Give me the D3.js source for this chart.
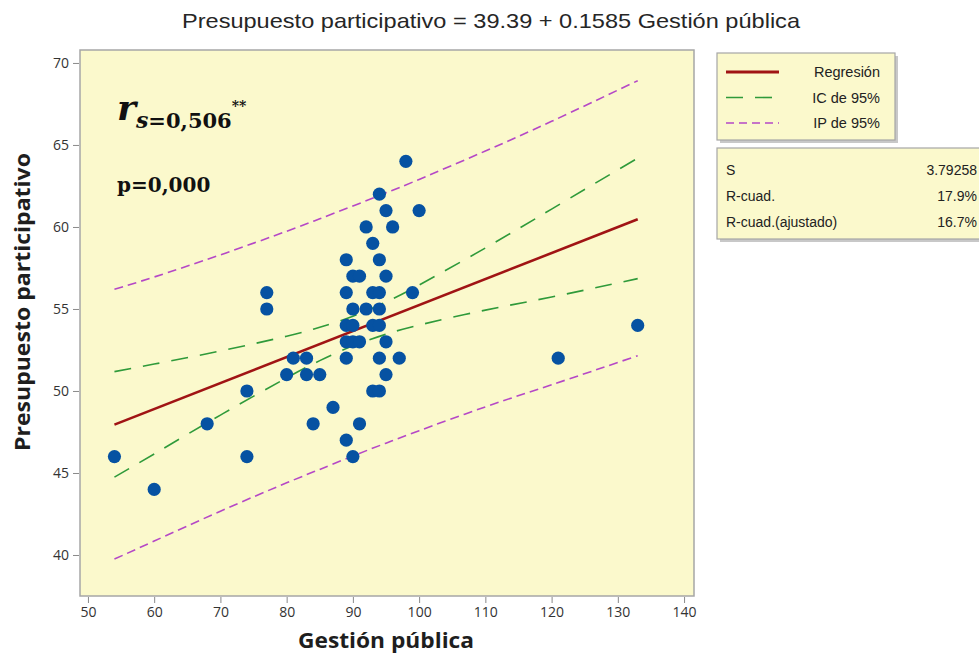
<!DOCTYPE html>
<html>
<head>
<meta charset="utf-8">
<script src="https://cdn.jsdelivr.net/npm/d3@7"></script>
<style>
  html, body { margin: 0; padding: 0; background: #ffffff; }
  svg { display: block; }
</style>
</head>
<body>
<svg id="chart" width="979" height="658"></svg>
<script>
// ---------- data ----------
const gestionPublica = [54, 60, 68, 74, 74, 77, 77, 80, 81, 83, 83, 85, 84, 87, 89, 90, 91,
  89, 89, 89, 89, 89, 90, 91, 90, 90, 90, 91, 92, 92, 93, 93, 93, 93,
  94, 94, 94, 94, 94, 94, 94, 95, 95, 95, 95, 96, 97, 98, 99, 100, 121, 133];
const presupuestoParticipativo = [46, 44, 48, 50, 46, 56, 55, 51, 52, 52, 51, 51, 48, 49, 47, 46, 48,
  58, 56, 54, 53, 52, 57, 57, 55, 54, 53, 53, 60, 55, 59, 56, 54, 50,
  62, 58, 56, 55, 54, 52, 50, 61, 57, 53, 51, 60, 52, 64, 56, 61, 52, 54];

const regX = [54, 133];
const regY = [47.95, 60.47];

const bandX   = [54, 60, 70, 80, 85, 90, 95, 100, 110, 120, 133];
const ciUpper = [51.18, 51.64, 52.44, 53.34, 53.88, 54.56, 55.43, 56.46, 58.72, 61.09, 64.20];
const ciLower = [44.75, 46.16, 48.53, 50.80, 51.85, 52.75, 53.46, 54.02, 54.93, 55.73, 56.85];
const piUpper = [56.20, 56.95, 58.30, 59.74, 60.50, 61.28, 62.08, 62.90, 64.63, 66.44, 68.92];
const piLower = [39.75, 40.85, 42.67, 44.40, 45.22, 46.04, 46.82, 47.58, 49.03, 50.38, 52.15];

const xTicks = [50, 60, 70, 80, 90, 100, 110, 120, 130, 140];
const yTicks = [40, 45, 50, 55, 60, 65, 70];

const titleText = "Presupuesto participativo = 39.39 + 0.1585 Gestión pública";
const xTitle = "Gestión pública";
const yTitle = "Presupuesto participativo";
const legendLabels = ["Regresión", "IC de 95%", "IP de 95%"];
const statLabels = ["S", "R-cuad.", "R-cuad.(ajustado)"];
const statValues = ["3.79258", "17.9%", "16.7%"];

// ---------- layout ----------
const svg = d3.select("#chart");
const plot = { left: 80, right: 694, top: 50, bottom: 596 };
const bg = "#fbf9cc";
const frame = "#a6a6a6";

const x = d3.scaleLinear().domain([48.8, 141.5]).range([plot.left, plot.right]);
const y = d3.scaleLinear().domain([37.5, 70.79]).range([plot.bottom, plot.top]);

// plot background
svg.append("rect")
  .attr("x", plot.left).attr("y", plot.top)
  .attr("width", plot.right - plot.left).attr("height", plot.bottom - plot.top)
  .attr("fill", bg).attr("stroke", frame).attr("stroke-width", 1.5);

// axes
const xAxis = d3.axisBottom(x).tickValues(xTicks).tickSize(6).tickPadding(4);
const yAxis = d3.axisLeft(y).tickValues(yTicks).tickSize(6).tickPadding(4);

const gx = svg.append("g").attr("transform", `translate(0,${plot.bottom + 1})`).call(xAxis);
const gy = svg.append("g").attr("transform", `translate(${plot.left - 1},0)`).call(yAxis);
[gx, gy].forEach(g => {
  g.select(".domain").remove();
  g.selectAll(".tick line").attr("stroke", "#8a8a8a");
  g.selectAll(".tick text")
    .attr("fill", "#333333")
    .style("font-family", "'Open Sans', 'Noto Sans', sans-serif")
    .style("font-size", "14px");
});

// clip to plot
svg.append("clipPath").attr("id", "clip").append("rect")
  .attr("x", plot.left).attr("y", plot.top)
  .attr("width", plot.right - plot.left).attr("height", plot.bottom - plot.top);
const g = svg.append("g").attr("clip-path", "url(#clip)");

const line = d3.line().x(d => x(d[0])).y(d => y(d[1])).curve(d3.curveNatural);

// prediction interval
[piUpper, piLower].forEach(arr => {
  g.append("path").datum(bandX.map((v, i) => [v, arr[i]]))
    .attr("d", line).attr("fill", "none")
    .attr("stroke", "#b548c6").attr("stroke-width", 1.6)
    .attr("stroke-dasharray", "9,5");
});
// confidence interval
[ciUpper, ciLower].forEach(arr => {
  g.append("path").datum(bandX.map((v, i) => [v, arr[i]]))
    .attr("d", line).attr("fill", "none")
    .attr("stroke", "#2f9a3a").attr("stroke-width", 1.6)
    .attr("stroke-dasharray", "17,12");
});
// regression
g.append("path").datum(regX.map((v, i) => [v, regY[i]]))
  .attr("d", d3.line().x(d => x(d[0])).y(d => y(d[1])))
  .attr("fill", "none").attr("stroke", "#a01414").attr("stroke-width", 2.6);

// points
g.selectAll("circle.pt").data(gestionPublica.map((v, i) => [v, presupuestoParticipativo[i]]))
  .enter().append("circle").attr("class", "pt")
  .attr("cx", d => x(d[0])).attr("cy", d => y(d[1]))
  .attr("r", 6.6).attr("fill", "#0652a2");

// title
svg.append("text")
  .attr("x", 491).attr("y", 28).attr("text-anchor", "middle")
  .attr("textLength", 618).attr("lengthAdjust", "spacingAndGlyphs")
  .style("font-family", "'Liberation Sans Narrow', 'Liberation Sans', Arial, sans-serif")
  .style("font-size", "21px").attr("fill", "#262626")
  .text(titleText);

// axis titles
svg.append("text")
  .attr("x", 386).attr("y", 648).attr("text-anchor", "middle")
  .attr("textLength", 176).attr("lengthAdjust", "spacingAndGlyphs")
  .style("font-family", "'Open Sans', 'Noto Sans', sans-serif")
  .style("font-weight", "bold").style("font-size", "21px").attr("fill", "#1e1e1e")
  .text(xTitle);
svg.append("text")
  .attr("transform", "translate(30,302) rotate(-90)").attr("text-anchor", "middle")
  .attr("textLength", 298).attr("lengthAdjust", "spacingAndGlyphs")
  .style("font-family", "'Open Sans', 'Noto Sans', sans-serif")
  .style("font-weight", "bold").style("font-size", "21px").attr("fill", "#1e1e1e")
  .text(yTitle);

// annotation r_s and p
const ann = svg.append("text").attr("x", 117).attr("y", 120)
  .style("font-family", "'DejaVu Serif', 'Liberation Serif', serif")
  .style("font-weight", "bold").attr("fill", "#111");
ann.append("tspan").style("font-style", "italic").style("font-size", "36px").text("r");
ann.append("tspan").attr("dy", 8).style("font-style", "italic").style("font-size", "22px").text("s");
ann.append("tspan").style("font-size", "21px").text("=0,506");
ann.append("tspan").attr("dy", -17).style("font-size", "14px").style("font-style", "italic").text("**");

svg.append("text").attr("x", 117).attr("y", 192)
  .style("font-family", "'DejaVu Serif', 'Liberation Serif', serif")
  .style("font-weight", "bold").style("font-size", "20px").attr("fill", "#111")
  .text("p=0,000");

// legend box
const shadow = "#c8c8c8";
function box(x0, y0, w, h) {
  svg.append("rect").attr("x", x0 + 3).attr("y", y0 + 3).attr("width", w).attr("height", h).attr("fill", shadow);
  svg.append("rect").attr("x", x0).attr("y", y0).attr("width", w).attr("height", h)
    .attr("fill", bg).attr("stroke", frame).attr("stroke-width", 1.2);
}
box(717, 53, 178, 87);
const legStyles = [
  { stroke: "#a01414", w: 3, dash: null },
  { stroke: "#2f9a3a", w: 1.6, dash: "17,12" },
  { stroke: "#b548c6", w: 1.6, dash: "8,5" }
];
legendLabels.forEach((lab, i) => {
  const yy = 72 + i * 25.5;
  const l = svg.append("line").attr("x1", 726).attr("x2", 779).attr("y1", yy).attr("y2", yy)
    .attr("stroke", legStyles[i].stroke).attr("stroke-width", legStyles[i].w);
  if (legStyles[i].dash) l.attr("stroke-dasharray", legStyles[i].dash);
  svg.append("text").attr("x", 880).attr("y", yy + 5).attr("text-anchor", "end")
    .style("font-family", "'Liberation Sans', Arial, sans-serif").style("font-size", "14.5px")
    .attr("fill", "#222").text(lab);
});

// stats box
box(717, 148, 270, 91);
statLabels.forEach((lab, i) => {
  const yy = 175 + i * 25.8;
  svg.append("text").attr("x", 726).attr("y", yy)
    .style("font-family", "'Liberation Sans', Arial, sans-serif").style("font-size", "14px")
    .attr("fill", "#222").text(lab);
  svg.append("text").attr("x", 977).attr("y", yy).attr("text-anchor", "end")
    .style("font-family", "'Liberation Sans', Arial, sans-serif").style("font-size", "14px")
    .attr("fill", "#222").text(statValues[i]);
});
</script>
</body>
</html>
